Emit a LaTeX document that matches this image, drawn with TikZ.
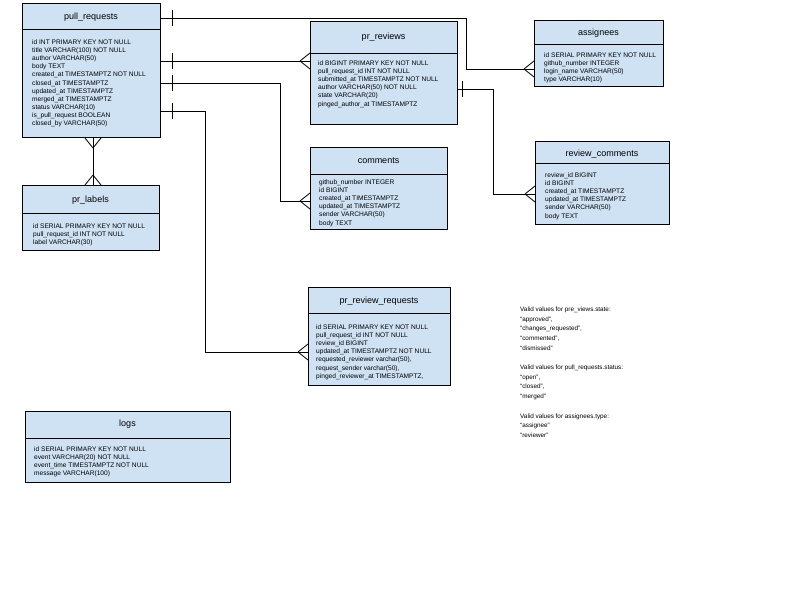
\documentclass[tikz,border=0pt]{standalone}
\usepackage{fontspec}
\setmainfont{Liberation Sans}
\usepackage{tikz}
\definecolor{tblblue}{HTML}{CFE2F3}

\begin{document}
\begin{tikzpicture}[x=1pt, y=-1pt,
  tbl/.style={draw, fill=tblblue, line width=1pt, anchor=north west, inner sep=0pt},
  title/.style={inner sep=0pt, font=\fontsize{9}{11}\selectfont},
  rows/.style={anchor=north west, inner sep=0pt, align=left, font=\fontsize{6.6}{8.1}\selectfont},
  conn/.style={line width=0.8pt},
  crow/.pic={\draw[conn] (-10,0) -- (0,-8) (-10,0) -- (0,8);},
  bar/.pic={\draw[conn] (0,-8) -- (0,8);}]
  \useasboundingbox (0,0) rectangle (800,600);

  % Tables
  \node[tbl, minimum width=138, minimum height=134] (pr) at (22,3) {};
  \draw[line width=1pt] (pr.west |- 0,29) -- (pr.east |- 0,29);
  \node[title] (prt) at (91,17) {pull\_requests};
  \node[rows] (prb) at (32,39.6) {id INT PRIMARY KEY NOT NULL\\title VARCHAR(100) NOT NULL\\author VARCHAR(50)\\body TEXT\\created\_at TIMESTAMPTZ NOT NULL\\closed\_at TIMESTAMPTZ\\updated\_at TIMESTAMPTZ\\merged\_at TIMESTAMPTZ\\status VARCHAR(10)\\is\_pull\_request BOOLEAN\\closed\_by VARCHAR(50)};

  \node[tbl, minimum width=147, minimum height=103] (pv) at (310,21) {};
  \draw[line width=1pt] (pv.west |- 0,53) -- (pv.east |- 0,53);
  \node[title] (pvt) at (383.5,37) {pr\_reviews};
  \node[rows] (pvb) at (318,60.6) {id BIGINT PRIMARY KEY NOT NULL\\pull\_request\_id INT NOT NULL\\submitted\_at TIMESTAMPTZ NOT NULL\\author VARCHAR(50) NOT NULL\\state VARCHAR(20)\\pinged\_author\_at TIMESTAMPTZ};

  \node[tbl, minimum width=129, minimum height=66] (as) at (534,20) {};
  \draw[line width=1pt] (as.west |- 0,44) -- (as.east |- 0,44);
  \node[title] (ast) at (598.5,33) {assignees};
  \node[rows] (asb) at (544,52.6) {id SERIAL PRIMARY KEY NOT NULL\\github\_number INTEGER\\login\_name VARCHAR(50)\\type VARCHAR(10)};

  \node[tbl, minimum width=137, minimum height=82] (cm) at (310,147) {};
  \draw[line width=1pt] (cm.west |- 0,174) -- (cm.east |- 0,174);
  \node[title] (cmt) at (378.5,161) {comments};
  \node[rows] (cmb) at (319,179.6) {github\_number INTEGER\\id BIGINT\\created\_at TIMESTAMPTZ\\updated\_at TIMESTAMPTZ\\sender VARCHAR(50)\\body TEXT};

  \node[tbl, minimum width=134, minimum height=83] (rc) at (535,141) {};
  \draw[line width=1pt] (rc.west |- 0,163) -- (rc.east |- 0,163);
  \node[title] (rct) at (602,154) {review\_comments};
  \node[rows] (rcb) at (545,172.6) {review\_id BIGINT\\id BIGINT\\created\_at TIMESTAMPTZ\\updated\_at TIMESTAMPTZ\\sender VARCHAR(50)\\body TEXT};

  \node[tbl, minimum width=137, minimum height=65] (pl) at (22,185) {};
  \draw[line width=1pt] (pl.west |- 0,213) -- (pl.east |- 0,213);
  \node[title] (plt) at (90.5,200) {pr\_labels};
  \node[rows] (plb) at (33,223.6) {id SERIAL PRIMARY KEY NOT NULL\\pull\_request\_id INT NOT NULL\\label VARCHAR(30)};

  \node[tbl, minimum width=142, minimum height=98] (rr) at (308,287) {};
  \draw[line width=1pt] (rr.west |- 0,313) -- (rr.east |- 0,313);
  \node[title] (rrt) at (379,301) {pr\_review\_requests};
  \node[rows] (rrb) at (316,324.6) {id SERIAL PRIMARY KEY NOT NULL\\pull\_request\_id INT NOT NULL\\review\_id BIGINT\\updated\_at TIMESTAMPTZ NOT NULL\\requested\_reviewer varchar(50),\\request\_sender varchar(50),\\pinged\_reviewer\_at TIMESTAMPTZ,};

  \node[tbl, minimum width=205, minimum height=71] (lg) at (25,411) {};
  \draw[line width=1pt] (lg.west |- 0,438) -- (lg.east |- 0,438);
  \node[title] (lgt) at (127.5,424) {logs};
  \node[rows] (lgb) at (34,446.6) {id SERIAL PRIMARY KEY NOT NULL\\event VARCHAR(20) NOT NULL\\event\_time TIMESTAMPTZ NOT NULL\\message VARCHAR(100)};

  % Notes
  \node[anchor=north west, inner sep=0pt, align=left, font=\fontsize{6.35}{9.7}\selectfont] (notes) at (520,306.5)
    {Valid values for pre\_views.state:\\“approved”,\\“changes\_requested”,\\“commented”,\\“dismissed”\\[9.7pt]
     Valid values for pull\_requests.status:\\“open”,\\“closed”,\\“merged”\\[9.7pt]
     Valid values for assignees.type:\\“assignee”\\“reviewer”};

  % Relations
  \draw[conn] (pr.east |- 0,18) -| (466,69) -- (as.west |- 0,69);
  \pic at (as.west |- 0,69) {crow};
  \pic at (172,18) {bar};

  \draw[conn] (pr.east |- 0,61) -- (pv.west |- 0,61);
  \pic at (pv.west |- 0,61) {crow};
  \pic at (172,61) {bar};

  \draw[conn] (pr.east |- 0,83) -| (280,201) -- (cm.west |- 0,201);
  \pic at (cm.west |- 0,201) {crow};
  \pic at (172,83) {bar};

  \draw[conn] (pr.east |- 0,111) -| (205,352) -- (rr.west |- 0,352);
  \pic at (rr.west |- 0,352) {crow};
  \pic at (172,111) {bar};

  \draw[conn] (pv.east |- 0,89) -| (493,194) -- (rc.west |- 0,194);
  \pic at (rc.west |- 0,194) {crow};
  \pic at (462,89) {bar};

  \draw[conn] (pr.south -| 93,0) -- (pl.north -| 93,0);
  \pic[rotate=90] at (pr.south -| 93,0) {crow};
  \pic[rotate=-90] at (pl.north -| 93,0) {crow};
\end{tikzpicture}
\end{document}
